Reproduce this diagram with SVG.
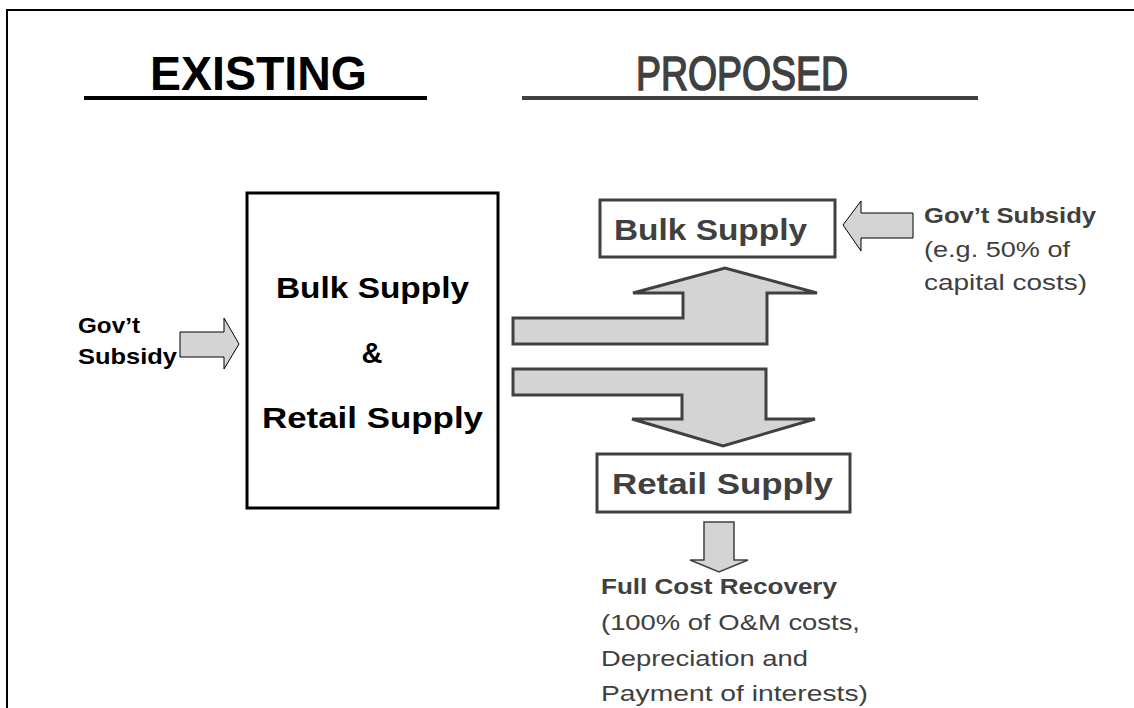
<svg xmlns="http://www.w3.org/2000/svg" width="1134" height="708" viewBox="0 0 1134 708">
  <style>
    text { font-family: "Liberation Sans", Arial, sans-serif; }
    .title { font-size: 49px; }
    .big { font-size: 29px; font-weight: bold; }
    .lbl { font-size: 22px; }
    .b { font-weight: bold; }
    .blk { fill: #000; }
    .gry { fill: #404040; }
    .arrow { fill: #d4d4d4; }
  </style>
  <rect x="7" y="10" width="1140" height="720" fill="#fff" stroke="#000" stroke-width="2"/>

  <g id="title-existing">
    <text class="title blk b" x="150" y="90" textLength="217" lengthAdjust="spacingAndGlyphs">EXISTING</text>
    <rect x="84" y="96" width="343" height="4" fill="#000"/>
  </g>
  <g id="title-proposed">
    <text class="title gry" x="636" y="90" textLength="212" lengthAdjust="spacingAndGlyphs" style="stroke:#404040;stroke-width:1.6">PROPOSED</text>
    <rect x="522" y="96" width="456" height="4" fill="#404040"/>
  </g>

  <g id="existing-box">
    <rect x="247" y="193" width="251" height="315" fill="#fff" stroke="#000" stroke-width="3"/>
    <text class="big blk" x="276" y="298" textLength="193" lengthAdjust="spacingAndGlyphs">Bulk Supply</text>
    <text class="big blk" x="372" y="363" text-anchor="middle">&amp;</text>
    <text class="big blk" x="262" y="428" textLength="221" lengthAdjust="spacingAndGlyphs">Retail Supply</text>
  </g>

  <g id="gov-subsidy-existing">
    <text class="lbl blk b" x="78" y="333" textLength="62" lengthAdjust="spacingAndGlyphs">Gov’t</text>
    <text class="lbl blk b" x="78" y="364" textLength="99" lengthAdjust="spacingAndGlyphs">Subsidy</text>
  </g>

  <g id="bulk-supply">
    <rect x="600" y="200" width="235" height="57" fill="#fff" stroke="#404040" stroke-width="3"/>
    <text class="big gry" x="614" y="240" textLength="193" lengthAdjust="spacingAndGlyphs">Bulk Supply</text>
  </g>

  <g id="retail-supply">
    <rect x="597" y="454" width="253" height="58" fill="#fff" stroke="#404040" stroke-width="3"/>
    <text class="big gry" x="612" y="494" textLength="221" lengthAdjust="spacingAndGlyphs">Retail Supply</text>
  </g>

  <g id="gov-subsidy-proposed">
    <text class="lbl gry b" x="924" y="223" textLength="172" lengthAdjust="spacingAndGlyphs">Gov’t Subsidy</text>
    <text class="lbl gry" x="924" y="257" textLength="146" lengthAdjust="spacingAndGlyphs">(e.g. 50% of</text>
    <text class="lbl gry" x="924" y="290" textLength="163" lengthAdjust="spacingAndGlyphs">capital costs)</text>
  </g>

  <g id="full-cost-recovery">
    <text class="lbl gry b" x="601" y="594" textLength="236" lengthAdjust="spacingAndGlyphs">Full Cost Recovery</text>
    <text class="lbl gry" x="601" y="630" textLength="259" lengthAdjust="spacingAndGlyphs">(100% of O&amp;M costs,</text>
    <text class="lbl gry" x="601" y="666" textLength="207" lengthAdjust="spacingAndGlyphs">Depreciation and</text>
    <text class="lbl gry" x="601" y="701" textLength="267" lengthAdjust="spacingAndGlyphs">Payment of interests)</text>
  </g>

  <g id="connectors">
    <polygon class="arrow" points="180,332 224,332 224,318 239,344 224,369 224,357 180,357" stroke="#000" stroke-width="1"/>
    <polygon class="arrow" points="843,225 861,201 861,213 913,213 913,238 861,238 861,251" stroke="#000" stroke-width="1"/>
    <polygon class="arrow" points="513,318 683,318 683,293 633,293 725,268 817,293 767,293 767,344 513,344" stroke="#404040" stroke-width="3"/>
    <polygon class="arrow" points="513,369 766,369 766,419 815,419 723,446 632,419 682,419 682,395 513,395" stroke="#404040" stroke-width="3"/>
    <polygon class="arrow" points="704,522 734,522 734,560 748,560 719,572 690,560 704,560" stroke="#404040" stroke-width="1.5"/>
  </g>
</svg>
